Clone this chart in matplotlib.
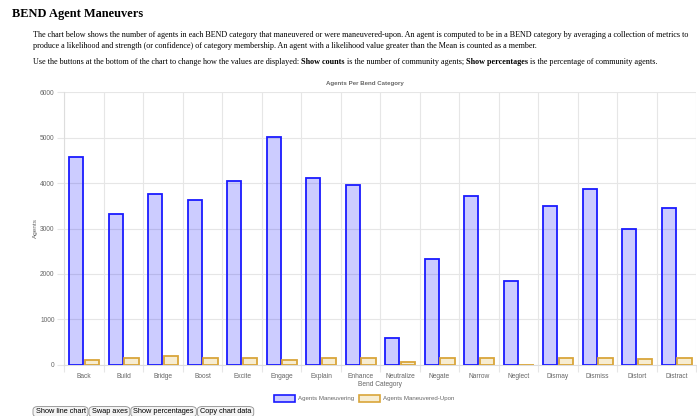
import matplotlib
matplotlib.use("Agg")
import matplotlib.pyplot as plt
from matplotlib.patches import Rectangle, FancyBboxPatch
import numpy as np

categories = ["Back", "Build", "Bridge", "Boost", "Excite", "Engage", "Explain", "Enhance",
              "Neutralize", "Negate", "Narrow", "Neglect", "Dismay", "Dismiss", "Distort", "Distract"]
maneuvering = [4580, 3320, 3765, 3635, 4045, 5005, 4120, 3960,
               595, 2335, 3710, 1850, 3495, 3860, 2980, 3450]
maneuvered_upon = [110, 147, 183, 147, 147, 110, 150, 147,
                   50, 139, 147, 0, 139, 150, 132, 139]
y_ticks = [0, 1000, 2000, 3000, 4000, 5000, 6000]

W, H = 697, 416
fig = plt.figure(figsize=(W / 100, H / 100), dpi=100)
renderer = fig.canvas.get_renderer()

SERIF = ["Liberation Serif", "DejaVu Serif"]
SANS = ["Liberation Sans", "DejaVu Sans"]


def px(x, y):
    return x / W, 1 - y / H


def run_text(x, y, pieces, size, family):
    """Draw a line of text made of (string, weight) pieces one after another."""
    cx = x
    for s, weight in pieces:
        t = fig.text(*px(cx, y), s, fontsize=size, family=family, weight=weight,
                     ha="left", va="center")
        bb = t.get_window_extent(renderer)
        cx += bb.width


# Page heading and description
fig.text(*px(12, 13.5), "BEND Agent Maneuvers", fontsize=8.9, family=SERIF,
         weight="bold", ha="left", va="center")
para = 5.9
run_text(33, 35, [("The chart below shows the number of agents in each BEND category that maneuvered "
                   "or were maneuvered-upon. An agent is computed to be in a BEND category by averaging "
                   "a collection of metrics to", "normal")], para, SERIF)
run_text(33, 46, [("produce a likelihood and strength (or confidence) of category membership. An agent "
                   "with a likelihood value greater than the Mean is counted as a member.", "normal")],
         para, SERIF)
run_text(33, 62, [("Use the buttons at the bottom of the chart to change how the values are displayed: ", "normal"),
                  ("Show counts", "bold"),
                  (" is the number of community agents; ", "normal"),
                  ("Show percentages", "bold"),
                  (" is the percentage of community agents.", "normal")], para, SERIF)

# Chart area
left, right, top, bottom = 64.3, 696.3, 92.3, 364.7
ax = fig.add_axes([left / W, 1 - bottom / H, (right - left) / W, (bottom - top) / H])
x = np.arange(len(categories))
ax.bar(x - 0.2, maneuvering, width=0.36, color=(0, 0, 1, 0.2), edgecolor="#1a1aff",
       linewidth=1.3, zorder=3)
ax.bar(x + 0.2, maneuvered_upon, width=0.36, color=(218 / 255, 165 / 255, 32 / 255, 0.2),
       edgecolor="#d9a53a", linewidth=1.3, zorder=3)

ax.set_xlim(-0.5, len(categories) - 0.5)
ax.set_ylim(0, 6000)
ax.set_yticks(y_ticks)
ax.set_yticklabels([str(v) for v in y_ticks])
ax.set_xticks(x)
ax.set_xticklabels(categories)
ax.set_xticks(np.arange(len(categories) + 1) - 0.5, minor=True)
grid_c = "#e6e6e6"
ax.grid(axis="y", which="major", color=grid_c, linewidth=0.8, zorder=0)
ax.grid(axis="x", which="minor", color=grid_c, linewidth=0.8, zorder=0)
ax.tick_params(axis="x", which="major", length=0, labelsize=4.8, labelcolor="#666666", pad=6)
ax.tick_params(axis="x", which="minor", length=5, color=grid_c, width=0.8)
ax.tick_params(axis="y", length=5, color=grid_c, width=0.8, labelsize=4.8,
               labelcolor="#666666", pad=2)
for side in ("top", "right"):
    ax.spines[side].set_visible(False)
for side in ("left", "bottom"):
    ax.spines[side].set_color("#dddddd")
    ax.spines[side].set_linewidth(0.8)
for lab in ax.get_xticklabels() + ax.get_yticklabels():
    lab.set_family(SANS)

fig.text(*px(365, 83), "Agents Per Bend Category", fontsize=4.4, family=SANS, weight="bold",
         color="#666666", ha="center", va="center")
fig.text(*px(35, 228), "Agents", fontsize=4.6, family=SANS, color="#666666", rotation=90,
         ha="center", va="center")
fig.text(*px(380, 384), "Bend Category", fontsize=4.8, family=SANS, color="#666666",
         ha="center", va="center")

# Legend
legend_items = [("Agents Maneuvering", (0, 0, 1, 0.2), "#1a1aff", 274),
                ("Agents Maneuvered-Upon", (218 / 255, 165 / 255, 32 / 255, 0.2), "#d9a53a", 359)]
for label, fc, ec, lx in legend_items:
    x0, y0 = px(lx, 402)
    fig.patches.append(Rectangle((x0, y0), 21 / W, 7 / H, transform=fig.transFigure,
                                 facecolor=fc, edgecolor=ec, linewidth=1.2))
    fig.text(*px(lx + 24, 398.5), label, fontsize=4.4, family=SANS, color="#666666",
             ha="left", va="center")

# Buttons below the chart
bx = 33
for label in ["Show line chart", "Swap axes", "Show percentages", "Copy chart data"]:
    t = fig.text(*px(bx + 2.5, 411.5), label, fontsize=5.3, family=SANS, color="black",
                 ha="left", va="center")
    w = t.get_window_extent(renderer).width
    x0, y0 = px(bx, 417)
    fig.patches.append(FancyBboxPatch((x0, y0), (w + 5) / W, 10.5 / H,
                                      boxstyle="round,pad=0,rounding_size=0.008",
                                      transform=fig.transFigure, facecolor="#f4f4f4",
                                      edgecolor="#8f8f8f", linewidth=0.6, zorder=0))
    bx += w + 6

fig.savefig("out.png", dpi=100)
